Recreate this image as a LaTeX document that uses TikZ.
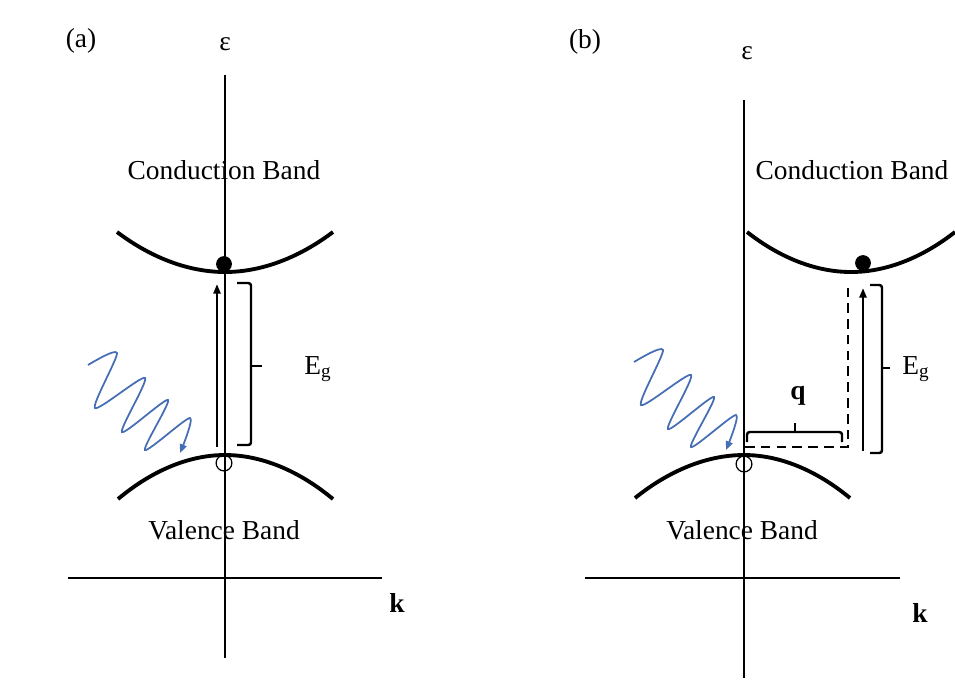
\documentclass[tikz,border=0pt]{standalone}
\usepackage{fontspec}
\setmainfont{Liberation Serif}
\usetikzlibrary{arrows.meta}
\definecolor{xPhoton}{RGB}{70,110,180}

\tikzset{
  band/.style={line width=2.2pt},
  axis/.style={line width=0.8pt},
  gap/.style={line width=1.4pt, -{Triangle[length=5.5pt,width=4pt]}},
  bracket/.style={line width=1.4pt, rounded corners=1.5pt},
  lbl/.style={font=\fontsize{15.6}{18}\selectfont, inner sep=0pt},
  photon/.pic={
    \draw[xPhoton, line width=1pt, -{Triangle[length=5pt,width=4pt]}]
      plot[smooth, tension=0.45] coordinates {(88,365) (117,353) (95,408) (145,378)
        (122,432) (168,400) (145,450) (190,418) (180,453)};
  }
}

\begin{document}
\begin{tikzpicture}[x=0.02cm, y=-0.02cm]
    \useasboundingbox (0,0) rectangle (955,698);

    % (a) direct gap
    \draw[axis] (225,75) -- (225,658);
    \draw[axis] (68,578) -- (382,578);
    \draw[band] (117,232) parabola bend (225,272) (333,232);
    \draw[band] (118,499) parabola bend (225,455) (333,499);
    \fill (224,264) circle (4.5pt);
    \draw[line width=0.7pt] (224,463) circle (4.5pt);
    \draw[gap] (217,447) -- (217,284);
    \draw[bracket] (237,283) -- (251,283) -- (251,445) -- (237,445);
    \draw[bracket] (251,366) -- (262,366);
    \pic at (0,0) {photon};

    \node[lbl] (tagA) at (81,41) {(a)};
    \node[lbl] (epsA) at (225,44) {ε};
    \node[lbl] (kA) at (397,603) {\textbf{k}};
    \node[lbl] (cbA) at (224,170) {Conduction Band};
    \node[lbl] (vbA) at (224,530) {Valence Band};
    \node[lbl] (egA) at (318,369) {E\textsubscript{g}};

    % (b) indirect gap
    \draw[axis] (744,100) -- (744,678);
    \draw[axis] (585,578) -- (900,578);
    \draw[band] (747,232) parabola bend (851,272) (955,232);
    \draw[band] (635,498) parabola bend (744,455) (850,498);
    \fill (863,263) circle (4.5pt);
    \draw[line width=0.7pt] (744,464) circle (4.5pt);
    \draw[line width=1.4pt, dash pattern=on 5.5pt off 3.5pt] (745,447) -- (848,447) -- (848,288);
    \draw[gap] (863,451) -- (863,288);
    \draw[bracket] (870,285) -- (882,285) -- (882,453) -- (870,453);
    \draw[bracket] (882,368) -- (890,368);
    \draw[bracket] (747,442) -- (747,432) -- (842,432) -- (842,442);
    \draw[bracket] (795,432) -- (795,423);
    \pic at (546,-3) {photon};

    \node[lbl] (tagB) at (585,42) {(b)};
    \node[lbl] (epsB) at (747,53) {ε};
    \node[lbl] (kB) at (920,613) {\textbf{k}};
    \node[lbl] (cbB) at (852,170) {Conduction Band};
    \node[lbl] (vbB) at (742,530) {Valence Band};
    \node[lbl] (egB) at (916,369) {E\textsubscript{g}};
    \node[lbl] (qB) at (798,396) {\textbf{q}};
\end{tikzpicture}
\end{document}
